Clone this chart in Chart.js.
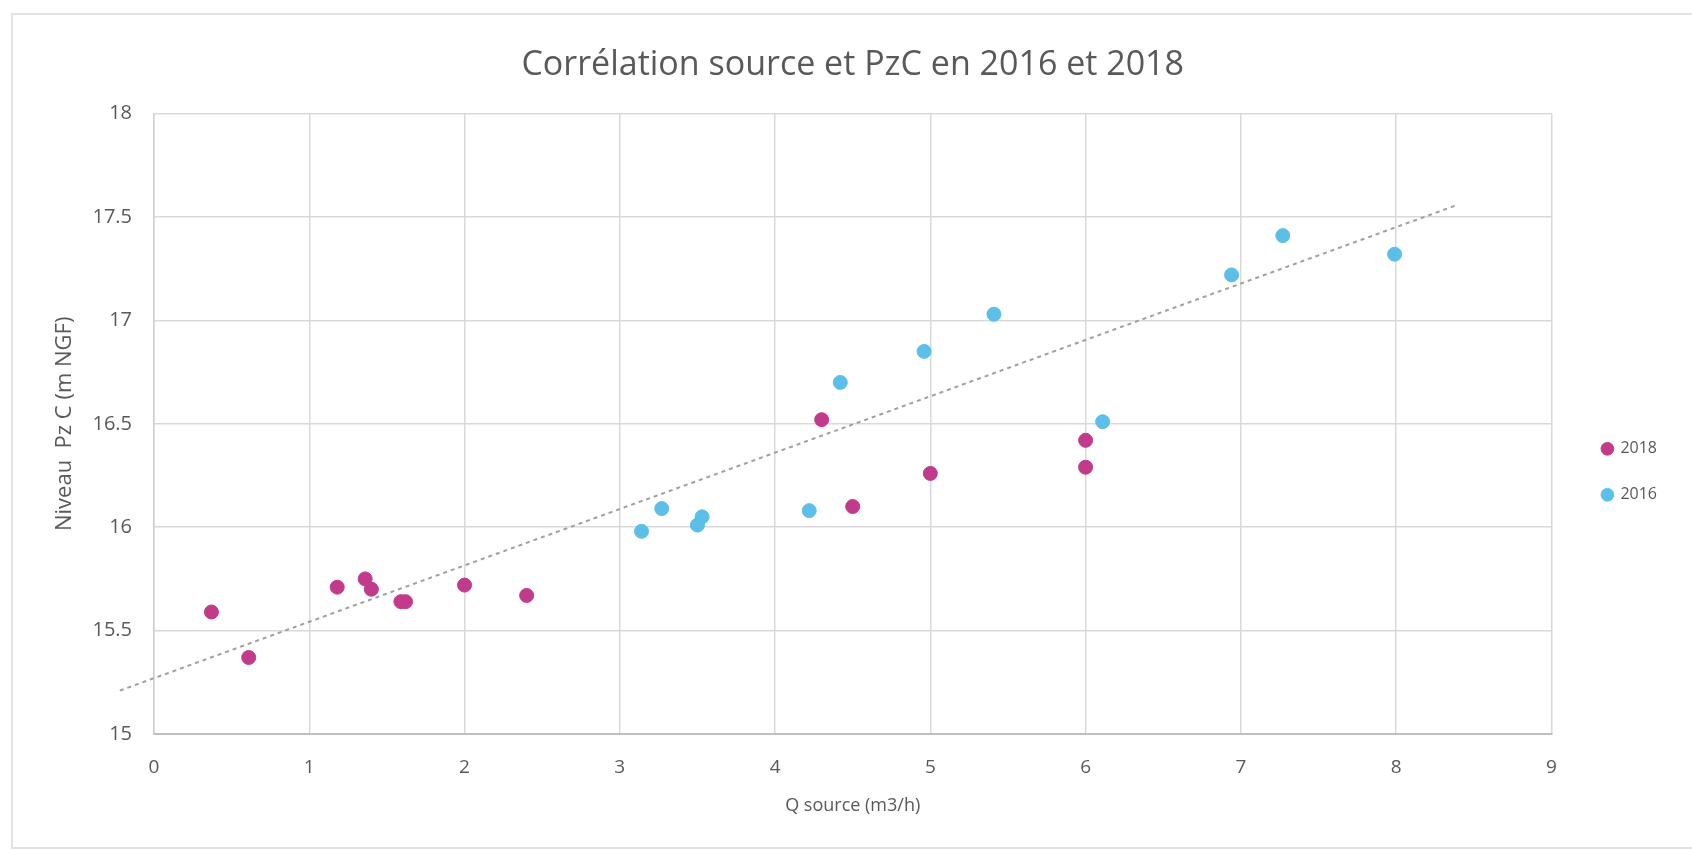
<!DOCTYPE html>
<html>
<head>
<meta charset="utf-8">
<script src="https://cdn.jsdelivr.net/npm/chart.js@4.4.1/dist/chart.umd.min.js"></script>
<style>
  html, body { margin: 0; padding: 0; background: #fff; }
  #wrap { position: relative; width: 1692px; height: 850px; overflow: hidden; }
  #frame { position: absolute; left: 11px; top: 13px; width: 1700px; height: 832px; border: 2px solid #e2e2e2; pointer-events: none; }
</style>
</head>
<body>
<div id="wrap">
  <canvas id="myChart" width="1692" height="850"></canvas>
  <div id="frame"></div>
</div>
<script>
// données
const x2018 = [0.37, 0.61, 1.18, 1.36, 1.40, 1.59, 1.62, 2.0, 2.40, 4.30, 4.50, 5.0, 6.0, 6.0];
const y2018 = [15.59, 15.37, 15.71, 15.75, 15.70, 15.64, 15.64, 15.72, 15.67, 16.52, 16.10, 16.26, 16.42, 16.29];
const x2016 = [3.14, 3.27, 3.50, 3.53, 4.22, 4.42, 4.96, 5.41, 6.11, 6.94, 7.27, 7.99];
const y2016 = [15.98, 16.09, 16.01, 16.05, 16.08, 16.70, 16.85, 17.03, 16.51, 17.22, 17.41, 17.32];
const trendX = [-0.22, 8.4];
const trendY = [15.21, 17.56];
const xTicks = [0, 1, 2, 3, 4, 5, 6, 7, 8, 9];
const yTicks = [15, 15.5, 16, 16.5, 17, 17.5, 18];

const toPoints = (xs, ys) => xs.map((x, i) => ({ x: x, y: ys[i] }));

const FONT = "'Open Sans', 'DejaVu Sans', sans-serif";
const GREY = "#595959";

const ctx = document.getElementById("myChart");

new Chart(ctx, {
  type: "scatter",
  data: {
    datasets: [
      {
        label: "2018",
        data: toPoints(x2018, y2018),
        backgroundColor: "#c23b8b",
        borderColor: "#c23b8b",
        pointRadius: 7,
        pointHoverRadius: 7,
      },
      {
        label: "2016",
        data: toPoints(x2016, y2016),
        backgroundColor: "#5cbfe8",
        borderColor: "#5cbfe8",
        pointRadius: 7,
        pointHoverRadius: 7,
      },
      {
        label: "tendance",
        type: "line",
        data: toPoints(trendX, trendY),
        borderColor: "#a0a0a0",
        borderWidth: 2,
        borderDash: [4, 4],
        pointRadius: 0,
        fill: false,
        clip: false,
      },
    ],
  },
  options: {
    responsive: false,
    animation: false,
    layout: {
      padding: { left: 0, top: 0, bottom: 0, right: 25 },
    },
    plugins: {
      title: {
        display: true,
        fullSize: false, // centré sur la zone de tracé
        text: "Corrélation source et PzC en 2016 et 2018",
        color: GREY,
        font: { family: FONT, size: 34, weight: "normal" },
        padding: { top: 45.2, bottom: 27.6 },
      },
      legend: {
        position: "right",
        title: {
          display: true,
          text: " ",
          font: { family: FONT, size: 18 },
          padding: 36,
        },
        labels: {
          usePointStyle: true,
          boxWidth: 10,
          boxHeight: 9,
          padding: 30,
          color: GREY,
          font: { family: FONT, size: 16 },
          filter: (item) => item.datasetIndex !== 2,
        },
      },
      tooltip: { enabled: false },
    },
    scales: {
      x: {
        type: "linear",
        min: 0,
        max: 9,
        afterFit: (scale) => {
          scale.height = 116;
        },
        afterBuildTicks: (scale) => {
          scale.ticks = xTicks.map((v) => ({ value: v }));
        },
        grid: {
          color: "#d9d9d9",
          lineWidth: 1.5,
          drawTicks: false,
        },
        border: { color: "#bfbfbf", width: 2 },
        ticks: {
          padding: 22,
          color: GREY,
          font: { family: FONT, size: 19 },
          callback: (value) => String(value),
        },
        title: {
          display: true,
          text: "Q source (m3/h)",
          color: GREY,
          font: { family: FONT, size: 18 },
          padding: { top: 0, bottom: 33.2 },
        },
      },
      y: {
        min: 15,
        max: 18,
        afterFit: (scale) => {
          scale.width = 154;
        },
        afterBuildTicks: (scale) => {
          scale.ticks = yTicks.map((v) => ({ value: v }));
        },
        grid: {
          color: "#d9d9d9",
          lineWidth: 1.5,
          drawTicks: false,
        },
        border: { color: "#d0d0d0", width: 1.5 },
        ticks: {
          padding: 22,
          color: GREY,
          font: { family: FONT, size: 20 },
          callback: (value) => String(value),
        },
        title: {
          display: true,
          text: "Niveau  Pz C (m NGF)",
          color: GREY,
          font: { family: FONT, size: 22 },
          padding: { top: 51.8, bottom: 0 },
        },
      },
      // axe vide pour décaler la légende vers la droite
      yGap: {
        type: "linear",
        position: "right",
        display: true,
        afterFit: (scale) => {
          scale.width = 21;
        },
        grid: { display: false },
        border: { display: false },
        ticks: { display: false },
      },
    },
  },
});
</script>
</body>
</html>
